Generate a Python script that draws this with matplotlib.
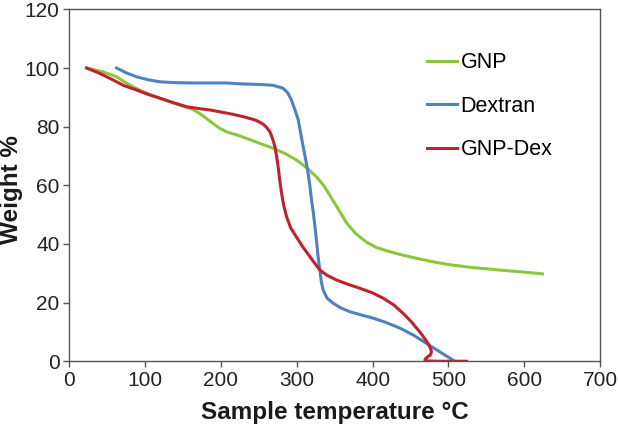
import matplotlib
matplotlib.use('Agg')
import matplotlib.pyplot as plt

plt.rcParams['font.family'] = ['Liberation Sans', 'DejaVu Sans']

# TGA curves (temperature in C, weight in %)
gnp_t = [22.9, 44.8, 62.5, 75.6, 90, 106, 132.7, 150, 163.5, 172, 181, 190, 198.7, 208, 220.7, 238,
         251.4, 269, 285, 299.8, 313, 326, 336, 345, 355, 365.7, 378, 392, 405, 418, 435, 458, 480,
         502, 530, 568, 600, 624]
gnp_w = [100, 98.7, 97, 94.8, 92.8, 91, 88.5, 87, 85.8, 84.5, 82.8, 81, 79.4, 78.2, 77.2, 75.6,
         74.3, 72.6, 70.8, 68.6, 66, 62.9, 59.8, 56, 51.8, 47.2, 43.5, 40.6, 38.8, 37.7, 36.5, 35.1, 33.9,
         32.9, 32, 31.1, 30.4, 29.8]

dex_t = [62.5, 75, 88.8, 104, 119.6, 140, 163.5, 207.5, 225, 251.4, 269, 282, 288, 293, 298, 302,
         305, 308.5, 312, 315, 317.5, 319.5, 322, 324, 326, 328, 330.5, 332.5, 334.8, 340, 348, 358,
         370, 385, 400.7, 418, 436, 454, 471, 488, 506]
dex_w = [100, 98.4, 97, 96, 95.3, 95, 94.9, 94.9, 94.6, 94.4, 94.1, 93.1, 91.6, 89.1, 85.5, 82.3,
         78, 73.2, 68.5, 64.1, 59.5, 55, 50.5, 45.9, 41.4, 36, 31.1, 27, 24.3, 21.5, 19.8, 18.2,
         16.9, 15.8, 14.7, 13.2, 11.3, 8.9, 6.1, 3.3, 0.4]

gnpdex_t = [22.9, 40, 58, 72, 88.8, 104, 119.6, 137, 154.7, 170, 185.5, 200, 216, 228, 238, 246,
            251.4, 256, 260, 264.6, 268, 271.2, 273.5, 275.5, 277.5, 280, 283, 286.6, 292, 299.8,
            308, 317.3, 322, 330.5, 340, 352.5, 368, 383.2, 400, 414, 428, 440, 451, 460, 467, 473,
            476.5, 477.7, 476.5, 473, 470, 469, 472, 488.6, 524]
gnpdex_w = [100, 98.2, 95.9, 94, 92.5, 91, 89.7, 88.2, 86.8, 86.2, 85.7, 85, 84.2, 83.5, 82.8, 82.2,
            81.5, 80.8, 79.8, 78.3, 76, 73.2, 69.8, 66.3, 62, 57.3, 53, 49.3, 45.5, 42.3,
            39, 35.7, 34, 31.1, 29.3, 27.7, 26.2, 24.9, 23.3, 21.5, 19.2, 16.4, 13.5, 10.7, 8.4, 6.1,
            4.3, 3.3, 2.2, 1.6, 0.9, 0.4, 0.1, 0, 0]

fig = plt.figure(figsize=(6.18, 4.26), dpi=100)
ax = fig.add_axes([0.112, 0.152, 0.859, 0.826])

ax.plot(gnp_t, gnp_w, color='#8cc63f', lw=2.2, label='GNP')
ax.plot(dex_t, dex_w, color='#4f81bd', lw=2.2, label='Dextran')
ax.plot(gnpdex_t, gnpdex_w, color='#c0212e', lw=2.2, label='GNP-Dex')

ax.set_xlim(0, 700)
ax.set_ylim(0, 120)
ax.set_xticks(range(0, 701, 100))
ax.set_yticks(range(0, 121, 20))
for s in ax.spines.values():
    s.set_color('#555555')
    s.set_linewidth(1.0)
ax.tick_params(direction='out', length=4, width=1, color='#555555',
               labelsize=15, labelcolor='#222222', pad=3)

ax.set_xlabel('Sample temperature °C', fontsize=17.5, fontweight='bold', color='#1a1a1a', labelpad=8)
ax.set_ylabel('Weight %', fontsize=17.5, fontweight='bold', color='#1a1a1a')
ax.yaxis.set_label_coords(-0.088, 0.487)

ax.legend(loc='upper left', bbox_to_anchor=(0.658, 0.903), frameon=False, fontsize=15.5,
          handlelength=1.4, handletextpad=0.15, labelspacing=1.05, borderaxespad=0)

plt.savefig('out.png', dpi=100)
plt.close()
